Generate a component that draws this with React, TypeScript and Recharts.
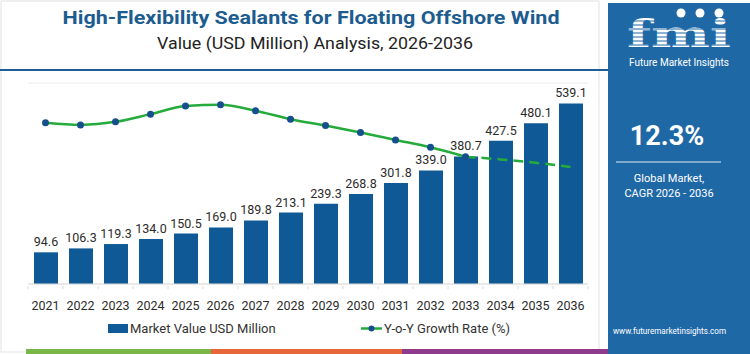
import React from 'react';
import { ComposedChart, Bar, Line, XAxis, YAxis, CartesianGrid, LabelList, Legend } from 'recharts';

const years = ['2021','2022','2023','2024','2025','2026','2027','2028','2029','2030','2031','2032','2033','2034','2035','2036'];
const marketValue = [94.6,106.3,119.3,134.0,150.5,169.0,189.8,213.1,239.3,268.8,301.8,339.0,380.7,427.5,480.1,539.1];
const growthRate = [12.81,12.75,12.84,13.07,13.31,13.35,13.17,12.92,12.73,12.52,12.30,12.08,11.80,11.72,11.62,11.49];
const solidUntil = '2033';
const valueTicks = [0,100,200,300,400,500,600];

const title = 'High-Flexibility Sealants for Floating Offshore Wind';
const subtitle = 'Value (USD Million) Analysis, 2026-2036';
const cagr = '12.3%';
const legendBar = 'Market Value USD Million';
const legendLine = 'Y-o-Y Growth Rate (%)';

const BAR = '#0f5a96';
const GREEN = '#25ab3c';
const DOT = '#16508c';
const PANEL = '#1f68a6';
const FONT = 'Roboto, "Open Sans", sans-serif';

const splitIdx = years.indexOf(solidUntil);
const data = years.map((y, i) => ({
  year: y,
  value: marketValue[i],
  growthSolid: i <= splitIdx ? growthRate[i] : null,
  growthDashed: i >= splitIdx ? growthRate[i] : null,
}));

const BAND = 35;
const Tick = (props: any) => {
  const { x, y, payload, index } = props;
  const isLast = index === years.length - 1;
  return (
    <g>
      <line x1={x - BAND / 2} x2={x - BAND / 2} y1={y - 6} y2={y - 3} stroke="#d9d9d9" />
      {isLast && <line x1={x + BAND / 2} x2={x + BAND / 2} y1={y - 6} y2={y - 3} stroke="#d9d9d9" />}
      <text x={x} y={y + 17.5} textAnchor="middle" fontSize={12.5} fill="#2b2b2b" fontFamily={FONT}>{payload.value}</text>
    </g>
  );
};

const LegendContent = () => (
  <svg width={608} height={20}>
    <rect x={108} y={6} width={20} height={9} fill={BAR} />
    <text x={130} y={15} fontSize={13} fill="#333" fontFamily={FONT}>{legendBar}</text>
    <line x1={361} x2={382} y1={10.5} y2={10.5} stroke={GREEN} strokeWidth={2.5} />
    <circle cx={371.5} cy={10.5} r={3} fill={DOT} />
    <text x={384} y={15} fontSize={13} fill="#333" fontFamily={FONT}>{legendLine}</text>
  </svg>
);

export default function App() {
  return (
    <div style={{ position: 'absolute', left: 0, top: 0, width: 750, height: 354, background: '#fff', overflow: 'hidden', fontFamily: FONT }}>
      <svg width={750} height={354} style={{ position: 'absolute', left: 0, top: 0 }}>
        <rect x={1} y={1} width={598} height={351} fill="none" stroke="#e2e2e2" />
        <text x={311} y={24} textAnchor="middle" fontSize={19} fontWeight={700} fill="#1d5c8f" fontFamily={FONT} textLength={497} lengthAdjust="spacingAndGlyphs">{title}</text>
        <text x={315} y={49} textAnchor="middle" fontSize={17} fill="#222" fontFamily={FONT} textLength={316} lengthAdjust="spacingAndGlyphs">{subtitle}</text>
        <line x1={0} x2={608} y1={70} y2={70} stroke="#1d5f95" strokeWidth={2} />
        <rect x={26} y={349} width={185} height={5} fill="#7ab648" />
        <rect x={211} y={349} width={191} height={5} fill="#e8673a" />
        <rect x={402} y={349} width={206} height={5} fill="#8e3b8e" />
      </svg>
      <div style={{ position: 'absolute', left: 0, top: 0 }}>
        <ComposedChart width={608} height={354} data={data} margin={{ top: 83, right: 20, bottom: 0, left: 28 }}>
          <CartesianGrid horizontal vertical={false} stroke="#ececec" />
          <XAxis dataKey="year" axisLine={{ stroke: '#dcdcdc' }} tickLine={false} tick={<Tick />} interval={0} height={50} />
          <YAxis yAxisId="v" hide domain={[0, 600]} ticks={valueTicks} />
          <YAxis yAxisId="g" hide orientation="right" domain={[8, 14]} />
          <Bar yAxisId="v" dataKey="value" fill={BAR} barSize={24} isAnimationActive={false}>
            <LabelList dataKey="value" position="top" offset={6} fontSize={12.5} fill="#2b2b2b" fontFamily={FONT} formatter={(v: any) => Number(v).toFixed(1)} />
          </Bar>
          <Line yAxisId="g" dataKey="growthSolid" type="monotone" stroke={GREEN} strokeWidth={2.5} dot={{ r: 3.5, fill: DOT, stroke: DOT, strokeWidth: 0 }} connectNulls={false} isAnimationActive={false} />
          <Line yAxisId="g" dataKey="growthDashed" type="monotone" stroke={GREEN} strokeWidth={2.5} strokeDasharray="10 6" dot={false} connectNulls={false} isAnimationActive={false} />
          <Legend content={<LegendContent />} wrapperStyle={{ position: 'absolute', left: 0, top: 318, width: 608, height: 20 }} />
        </ComposedChart>
      </div>
      <svg width={142} height={351} style={{ position: 'absolute', left: 608, top: 3 }}>
        <rect x={0} y={0} width={142} height={351} fill={PANEL} />
        <text x={71} y={44} textAnchor="middle" fontSize={38} fontWeight={700} fill="#fff" fontFamily='"DejaVu Serif", serif' textLength={104} lengthAdjust="spacingAndGlyphs">fmi</text>
        {[18, 22, 26, 30, 34, 38, 42].map((yy) => (
          <line key={yy} x1={15} x2={130} y1={yy} y2={yy} stroke={PANEL} strokeWidth={1.2} />
        ))}
        <circle cx={73} cy={10} r={4.5} fill="#fff" />
        <circle cx={92} cy={10} r={4.5} fill="#fff" />
        <circle cx={111} cy={10} r={4.5} fill="#fff" />
        <text x={71} y={63} textAnchor="middle" fontSize={10} fill="#fff" fontFamily={FONT}>Future Market Insights</text>
        <text x={59} y={142} textAnchor="middle" fontSize={27} fontWeight={700} fill="#fff" fontFamily={FONT}>{cagr}</text>
        <line x1={8} x2={113} y1={159} y2={159} stroke="#dfe9f3" strokeWidth={1.2} />
        <text x={61} y={179} textAnchor="middle" fontSize={11} fill="#fff" fontFamily={FONT}>Global Market,</text>
        <text x={61} y={194} textAnchor="middle" fontSize={11} fill="#fff" fontFamily={FONT}>CAGR 2026 - 2036</text>
        <text x={61.5} y={331} textAnchor="middle" fontSize={9.5} fill="#fff" fontFamily={FONT} textLength={113} lengthAdjust="spacingAndGlyphs">www.futuremarketinsights.com</text>
      </svg>
    </div>
  );
}
